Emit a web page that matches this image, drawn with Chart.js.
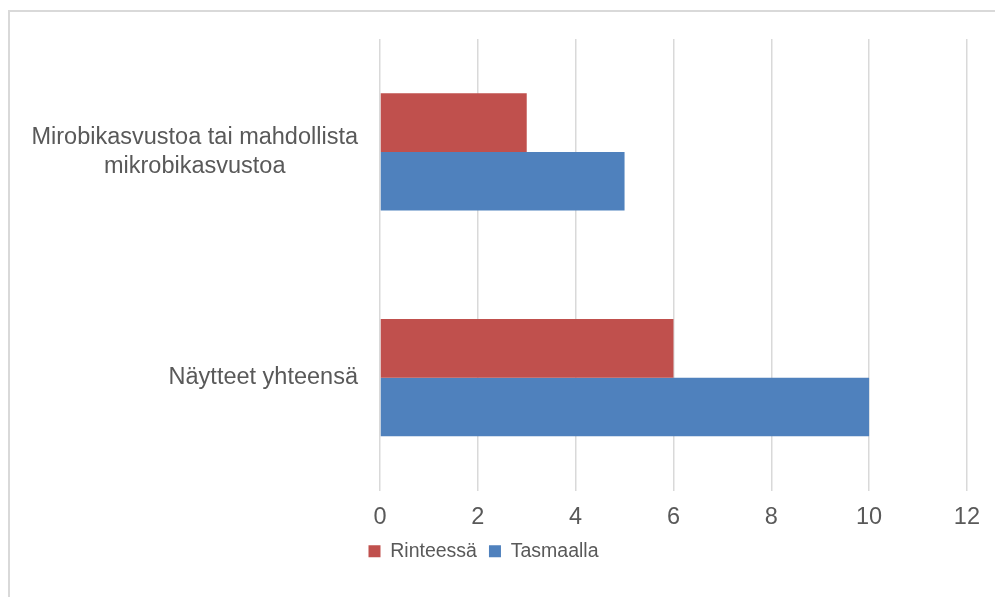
<!DOCTYPE html>
<html>
<head>
<meta charset="utf-8">
<script src="https://cdn.jsdelivr.net/npm/chart.js@4"></script>
<style>
  html, body { margin: 0; padding: 0; background: #fff; overflow: hidden; }
  #wrap { position: relative; width: 995px; height: 597px; }
  #frame { position: absolute; left: 8px; top: 10px; width: 1000px; height: 600px; border: 2px solid #d9d9d9; }
  canvas { position: absolute; left: 0; top: 0; }
</style>
</head>
<body>
<div id="wrap">
  <div id="frame"></div>
  <canvas id="chart" width="995" height="597"></canvas>
</div>
<script>
const categories = [
  ["Mirobikasvustoa tai mahdollista", "mikrobikasvustoa"],
  ["Näytteet yhteensä"]
];
const rinteessa = [3, 6];
const tasmaalla = [5, 10];
const xTicks = [0, 2, 4, 6, 8, 10, 12];

const textColor = "#595959";
const fontFamily = "'Liberation Sans', Arial, sans-serif";

// Excel-style category labels: block right aligned, lines centred inside it
const catLabels = {
  id: "catLabels",
  afterDraw(chart) {
    const { ctx, scales } = chart;
    const y = scales.y;
    ctx.save();
    ctx.font = "23.5px " + fontFamily;
    ctx.fillStyle = textColor;
    ctx.textAlign = "center";
    ctx.textBaseline = "middle";
    const right = chart.chartArea.left - 22;
    const lineH = 29;
    categories.forEach((lines, i) => {
      const w = Math.max(...lines.map(l => ctx.measureText(l).width));
      const cx = right - w / 2;
      const cy = y.getPixelForValue(i);
      lines.forEach((l, j) => {
        ctx.fillText(l, cx, cy + (j - (lines.length - 1) / 2) * lineH);
      });
    });
    ctx.restore();
  }
};

new Chart(document.getElementById("chart"), {
  type: "bar",
  data: {
    labels: categories,
    datasets: [
      { label: "Rinteessä", data: rinteessa, backgroundColor: "#c0504d" },
      { label: "Tasmaalla", data: tasmaalla, backgroundColor: "#4f81bd" }
    ]
  },
  options: {
    indexAxis: "y",
    responsive: false,
    animation: false,
    categoryPercentage: 0.52,
    barPercentage: 1,
    layout: { padding: { top: 39, right: 28, bottom: 26, left: 0 } },
    scales: {
      x: {
        min: 0,
        max: 12,
        afterBuildTicks: (s) => { s.ticks = xTicks.map(v => ({ value: v })); },
        grid: { color: "#d9d9d9", lineWidth: 1.5, drawTicks: false },
        border: { display: false },
        ticks: { color: textColor, font: { size: 23.5, family: fontFamily, lineHeight: 1 }, padding: 15 },
        afterFit: (s) => { s.height = 39; }
      },
      y: {
        grid: { display: false },
        border: { display: false },
        ticks: { display: false },
        afterFit: (s) => { s.width = 380; }
      }
    },
    plugins: {
      legend: {
        position: "bottom",
        labels: {
          color: textColor,
          font: { size: 19.5, family: fontFamily, lineHeight: 1 },
          boxWidth: 12,
          boxHeight: 12,
          padding: 12
        }
      },
      tooltip: { enabled: false }
    }
  },
  plugins: [catLabels]
});
</script>
</body>
</html>
